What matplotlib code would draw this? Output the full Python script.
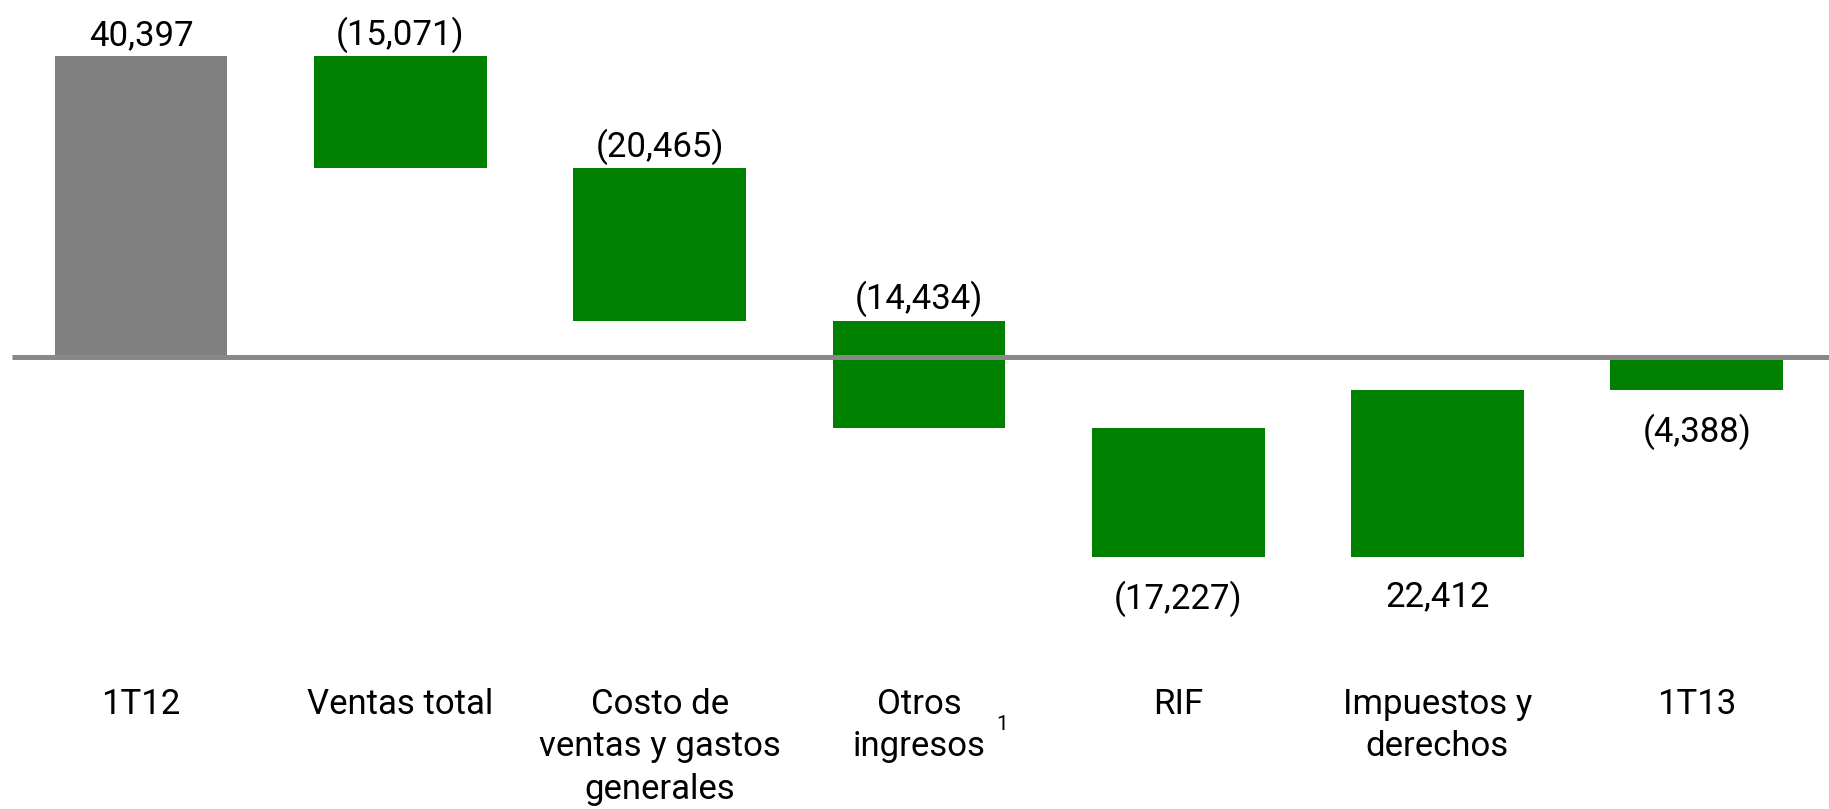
import matplotlib
matplotlib.use("Agg")
import matplotlib.pyplot as plt

plt.rcParams["font.family"] = ["Roboto", "DejaVu Sans"]

# ── datos ───────────────────────────────────────────────────────────────
categorias = ["1T12", "Ventas total", "Costo de\nventas y gastos\ngenerales",
              "Otros\ningresos", "RIF", "Impuestos y\nderechos", "1T13"]
inicio = 40397
cambios = [-15071, -20465, -14434, -17227, 22412]
etiquetas = ["40,397", "(15,071)", "(20,465)", "(14,434)", "(17,227)", "22,412", "(4,388)"]

GRIS = "#808080"
VERDE = "#008000"
LINEA = "#888888"

# barras flotantes: (base, altura)
bases, alturas, colores = [0], [inicio], [GRIS]
nivel = inicio
for c in cambios:
    bases.append(nivel)
    alturas.append(c)
    colores.append(VERDE)
    nivel += c
bases.append(0)
alturas.append(nivel)
colores.append(VERDE)

fig = plt.figure(figsize=(18.29, 8.09), dpi=100, facecolor="white")
ax = fig.add_axes([0, 0, 1, 1])
ax.set_xlim(-0.544, 6.510)
ax.set_ylim(-60662, 47913)
ax.axis("off")

x = list(range(len(categorias)))
ax.bar(x, alturas, bottom=bases, width=0.666, color=colores, zorder=2)

# línea de cero
ax.plot([-0.497, 6.6], [0, 0], color=LINEA, linewidth=3.6, zorder=3,
        solid_capstyle="butt")

# etiquetas de valor: arriba si la barra sube sobre cero, abajo si no
for i in x:
    tope = max(bases[i], bases[i] + alturas[i])
    piso = min(bases[i], bases[i] + alturas[i])
    if tope > 0:
        ax.annotate(etiquetas[i], (i, tope), xytext=(0, 2.5), textcoords="offset points",
                    ha="center", va="bottom", fontsize=25, color="black")
    else:
        ax.annotate(etiquetas[i], (i, piso), xytext=(0, -17), textcoords="offset points",
                    ha="center", va="top", fontsize=25, color="black")

# categorías
for i, cat in enumerate(categorias):
    ax.text(i, -44400, cat, ha="center", va="top", fontsize=25,
            linespacing=1.37, color="black")

# nota al pie en "Otros ingresos"
ax.text(3.30, -48000, "1", ha="left", va="top", fontsize=15, color="black")

fig.savefig("out.png", dpi=100, facecolor="white")
